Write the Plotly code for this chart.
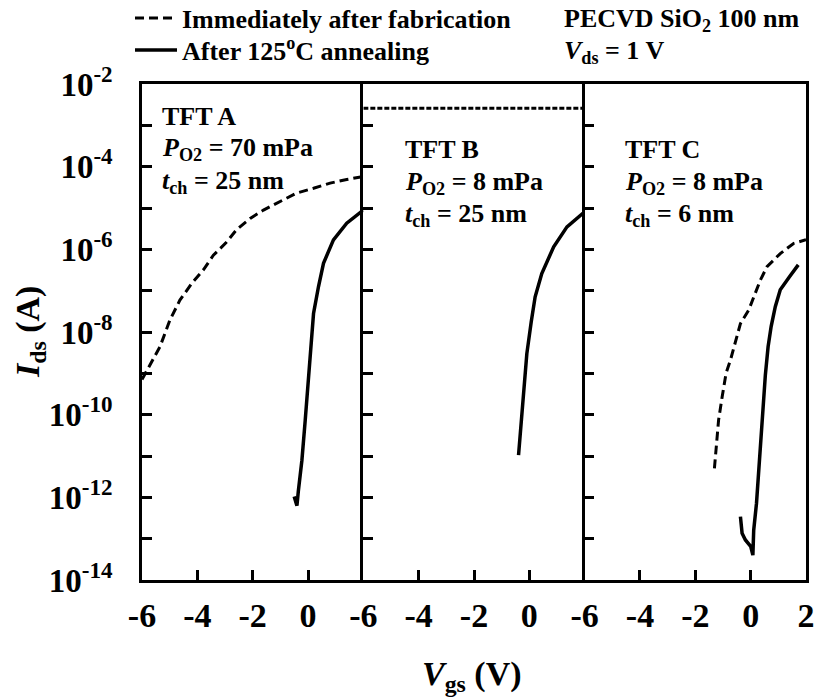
import plotly.graph_objects as go

# ---- Transfer characteristics (Vgs in V, Ids in A) ----
# TFT A: P_O2 = 70 mPa, t_ch = 25 nm
vgs_a_fab = [-6.0, -5.71, -5.35, -4.99, -4.63, -4.20, -3.78, -3.42, -2.94, -2.58,
             -2.09, -1.61, -1.01, -0.41, 0.20, 0.80, 1.40, 2.0]
ids_a_fab = [7.1e-10, 1.6e-9, 4.4e-9, 1.95e-8, 5.9e-8, 1.5e-7, 3.2e-7, 7.2e-7, 1.5e-6, 3.0e-6,
             5.6e-6, 8.9e-6, 1.4e-5, 2.3e-5, 3.0e-5, 4.0e-5, 4.9e-5, 5.8e-5]
vgs_a_ann = [-0.50, -0.47, -0.43, -0.40, -0.35, -0.22, -0.10, 0.02, 0.10, 0.20,
             0.38, 0.56, 0.92, 1.40, 2.0]
ids_a_ann = [1.05e-12, 8.9e-13, 6.6e-13, 6.3e-13, 1.4e-12, 7.9e-12, 7.4e-11, 7.9e-10, 5.0e-9, 2.8e-8,
             1.26e-7, 4.6e-7, 1.7e-6, 4.3e-6, 8.9e-6]

# TFT B: P_O2 = 8 mPa, t_ch = 25 nm
vgs_b_fab = [-6.0, -4.0, -2.0, 0.0, 2.0]
ids_b_fab = [2.6e-3, 2.6e-3, 2.6e-3, 2.6e-3, 2.6e-3]
vgs_b_ann = [-0.39, -0.29, -0.21, -0.09, 0.07, 0.21, 0.45, 0.88, 1.36, 2.0]
ids_b_ann = [1.05e-11, 7.4e-11, 4.8e-10, 3.0e-9, 1.8e-8, 7.1e-8, 2.6e-7, 1.15e-6, 3.5e-6, 8.1e-6]

# TFT C: P_O2 = 8 mPa, t_ch = 6 nm
vgs_c_fab = [-1.31, -1.24, -1.16, -1.03, -0.89, -0.73, -0.55, -0.37, -0.07, 0.17,
             0.35, 0.59, 1.07, 1.56, 2.0]
ids_c_fab = [5.0e-12, 1.7e-11, 7.4e-11, 2.7e-10, 1.0e-9, 2.1e-9, 5.4e-9, 1.6e-8, 3.4e-8, 8.7e-8,
             1.8e-7, 3.8e-7, 7.9e-7, 1.4e-6, 1.7e-6]
vgs_c_ann = [-0.37, -0.34, -0.31, -0.19, 0.0, 0.08, 0.11, 0.21, 0.29, 0.41,
             0.53, 0.63, 0.74, 0.89, 1.07, 1.41, 1.72]
ids_c_ann = [3.4e-13, 1.8e-13, 1.35e-13, 9.3e-14, 6.5e-14, 4.0e-14, 1.6e-13, 7.1e-13, 4.6e-12, 7.4e-11,
             8.9e-10, 4.4e-9, 1.35e-8, 4.1e-8, 1.05e-7, 2.2e-7, 4.2e-7]

# Axis ticks
x_tick_vals = [-6, -4, -2, 0]
x_tick_text = ["<b>-6</b>", "<b>-4</b>", "<b>-2</b>", "<b>0</b>"]
x_tick_vals_last = [-6, -4, -2, 0, 2]
x_tick_text_last = ["<b>-6</b>", "<b>-4</b>", "<b>-2</b>", "<b>0</b>", "<b>2</b>"]
y_tick_vals = [1e-14, 1e-13, 1e-12, 1e-11, 1e-10, 1e-9, 1e-8, 1e-7, 1e-6, 1e-5, 1e-4, 1e-3, 1e-2]
y_tick_text = ["<b>10<sup>-14</sup></b>", "", "<b>10<sup>-12</sup></b>", "", "<b>10<sup>-10</sup></b>", "",
               "<b>10<sup>-8</sup></b>", "", "<b>10<sup>-6</sup></b>", "", "<b>10<sup>-4</sup></b>", "",
               "<b>10<sup>-2</sup></b>"]

FONT = "Liberation Serif"
BLACK = "black"

fig = go.Figure()

line_fab = dict(color=BLACK, width=3, dash="9px,5px")
line_fab_b = dict(color=BLACK, width=3, dash="5px,2px")
line_ann = dict(color=BLACK, width=3.5)

fig.add_trace(go.Scatter(x=vgs_a_fab, y=ids_a_fab, mode="lines", line=line_fab,
                         name="<b>Immediately after fabrication</b>", xaxis="x", yaxis="y",
                         showlegend=True, legend="legend"))
fig.add_trace(go.Scatter(x=vgs_a_ann, y=ids_a_ann, mode="lines", line=line_ann,
                         name="<b>After 125<sup>o</sup>C annealing</b>", xaxis="x", yaxis="y",
                         showlegend=True, legend="legend2"))
fig.add_trace(go.Scatter(x=vgs_b_fab, y=ids_b_fab, mode="lines", line=line_fab_b,
                         xaxis="x2", yaxis="y2", showlegend=False))
fig.add_trace(go.Scatter(x=vgs_b_ann, y=ids_b_ann, mode="lines", line=line_ann,
                         xaxis="x2", yaxis="y2", showlegend=False))
fig.add_trace(go.Scatter(x=vgs_c_fab, y=ids_c_fab, mode="lines", line=line_fab,
                         xaxis="x3", yaxis="y3", showlegend=False))
fig.add_trace(go.Scatter(x=vgs_c_ann, y=ids_c_ann, mode="lines", line=line_ann,
                         xaxis="x3", yaxis="y3", showlegend=False))

common_x = dict(range=[-6, 2], ticks="inside", ticklen=10, tickwidth=2.5, tickcolor=BLACK,
                showline=True, linewidth=2.5, linecolor=BLACK, mirror=True,
                showgrid=False, zeroline=False, ticklabelstandoff=3,
                tickfont=dict(family=FONT, size=34, color=BLACK))
common_y = dict(type="log", range=[-14, -2], ticks="inside", ticklen=10, tickwidth=2.5,
                tickcolor=BLACK, showline=True, linewidth=2.5, linecolor=BLACK,
                showgrid=False, zeroline=False, tickmode="array", tickvals=y_tick_vals)

legend_common = dict(xref="container", yref="container", xanchor="left", yanchor="middle",
                     bgcolor="rgba(0,0,0,0)", borderwidth=0, itemwidth=42,
                     font=dict(family=FONT, size=26, color=BLACK))

fig.update_layout(
    width=818, height=698,
    margin=dict(l=142, r=12, t=84, b=118, autoexpand=False),
    paper_bgcolor="white", plot_bgcolor="white",
    font=dict(family=FONT, color=BLACK),
    xaxis=dict(domain=[0, 1/3], anchor="y", tickmode="array",
               tickvals=x_tick_vals, ticktext=x_tick_text, **common_x),
    xaxis2=dict(domain=[1/3, 2/3], anchor="y2", tickmode="array",
                tickvals=x_tick_vals, ticktext=x_tick_text, **common_x),
    xaxis3=dict(domain=[2/3, 1], anchor="y3", tickmode="array",
                tickvals=x_tick_vals_last, ticktext=x_tick_text_last, **common_x),
    yaxis=dict(anchor="x", ticktext=y_tick_text, ticklabelstandoff=20,
               mirror=False, tickfont=dict(family=FONT, size=33, color=BLACK), **common_y),
    yaxis2=dict(anchor="x2", matches="y", showticklabels=False, mirror=False, **common_y),
    yaxis3=dict(anchor="x3", matches="y", showticklabels=False, mirror=True, **common_y),
    legend=dict(x=130 / 818, y=1 - 18 / 698, **legend_common),
    legend2=dict(x=130 / 818, y=1 - 50 / 698, **legend_common),
    showlegend=True,
)

ann_font = dict(family=FONT, size=26, color=BLACK)
note_font = dict(family=FONT, size=26, color=BLACK)
title_font = dict(family=FONT, size=34, color=BLACK)


def paper_y(py):
    return (580 - py) / 496


def panel_text(xref, xfrac, rows):
    for text, py in rows:
        fig.add_annotation(text=text, xref=xref, x=xfrac, yref="paper", y=paper_y(py),
                           xanchor="left", yanchor="middle", showarrow=False, font=ann_font)


panel_text("x domain", 0.08, [("<b>TFT A</b>", 116),
                              ("<b><i>P</i><sub>O2</sub> = 70 mPa</b>", 149),
                              ("<b><i>t</i><sub>ch</sub> = 25 nm</b>", 182)])
panel_text("x2 domain", 0.178, [("<b>TFT B</b>", 149),
                                ("<b><i>P</i><sub>O2</sub> = 8 mPa</b>", 183),
                                ("<b><i>t</i><sub>ch</sub> = 25 nm</b>", 215)])
panel_text("x3 domain", 0.175, [("<b>TFT C</b>", 149),
                                ("<b><i>P</i><sub>O2</sub> = 8 mPa</b>", 183),
                                ("<b><i>t</i><sub>ch</sub> = 6 nm</b>", 215)])

# Measurement conditions
fig.add_annotation(text="<b>PECVD SiO<sub>2</sub> 100 nm</b>", xref="paper", x=(562 - 142) / 664,
                   yref="paper", y=paper_y(20), xanchor="left", yanchor="middle",
                   showarrow=False, font=note_font)
fig.add_annotation(text="<b><i>V</i><sub>ds</sub> = 1 V</b>", xref="paper", x=(562 - 142) / 664,
                   yref="paper", y=paper_y(52), xanchor="left", yanchor="middle",
                   showarrow=False, font=note_font)

# Axis titles
fig.add_annotation(text="<b><i>I</i><sub>ds</sub> (A)</b>", xref="paper", x=(30 - 142) / 664,
                   yref="paper", y=paper_y(332), textangle=-90, xanchor="center",
                   yanchor="middle", showarrow=False, font=title_font)
fig.add_annotation(text="<b><i>V</i><sub>gs</sub> (V)</b>", xref="paper", x=(472 - 142) / 664,
                   yref="paper", y=paper_y(676), xanchor="center", yanchor="middle",
                   showarrow=False, font=title_font)

fig.write_html("out.html")
